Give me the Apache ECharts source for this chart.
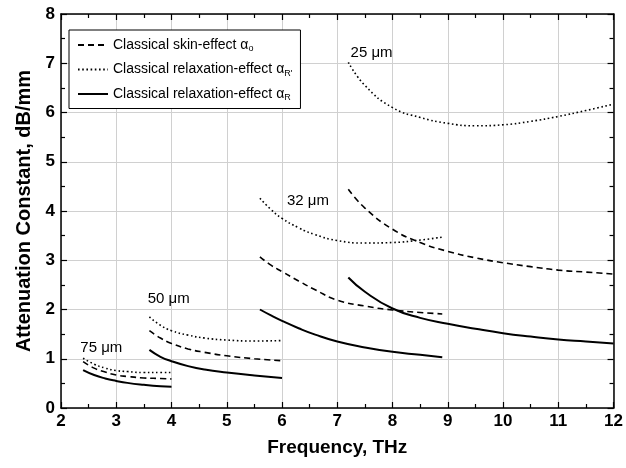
<!DOCTYPE html>
<html>
<head>
<meta charset="utf-8">
<script src="https://cdn.jsdelivr.net/npm/echarts@6/dist/echarts.min.js"></script>
<style>
  html, body { margin: 0; padding: 0; background: #fff; }
  #chart { width: 626px; height: 468px; }
</style>
</head>
<body>
<div id="chart"></div>
<script>
// frequency points (THz) for each wire size
const x75 = [2.4, 2.6, 2.8, 3.0, 3.2, 3.5, 3.8, 4.0];
const x50 = [3.6, 3.8, 4.0, 4.3, 4.6, 5.0, 5.5, 6.0];
const x32 = [5.6, 5.8, 6.0, 6.3, 6.6, 7.0, 7.5, 8.0, 8.5, 8.9];
const x25 = [7.2, 7.5, 8.0, 8.5, 9.0, 9.5, 10, 10.5, 11, 11.5, 12];

// skin-effect alpha_o (dashed)
const skin75 = [0.94, 0.81, 0.73, 0.67, 0.64, 0.61, 0.60, 0.59];
const skin50 = [1.57, 1.42, 1.31, 1.20, 1.13, 1.06, 1.00, 0.96];
const skin32 = [3.07, 2.90, 2.77, 2.58, 2.40, 2.19, 2.07, 1.99, 1.94, 1.91];
const skin25 = [4.44, 4.06, 3.63, 3.36, 3.18, 3.05, 2.95, 2.87, 2.80, 2.76, 2.72];

// relaxation-effect alpha_R' (dotted)
const relP75 = [1.01, 0.89, 0.81, 0.76, 0.74, 0.72, 0.72, 0.72];
const relP50 = [1.85, 1.68, 1.57, 1.48, 1.42, 1.38, 1.36, 1.37];
const relP32 = [4.26, 4.03, 3.85, 3.66, 3.52, 3.40, 3.35, 3.36, 3.41, 3.47];
const relP25 = [7.02, 6.55, 6.10, 5.90, 5.78, 5.73, 5.75, 5.82, 5.92, 6.04, 6.17];

// relaxation-effect alpha_R (solid)
const rel75 = [0.77, 0.67, 0.60, 0.55, 0.51, 0.47, 0.44, 0.43];
const rel50 = [1.18, 1.04, 0.95, 0.85, 0.78, 0.72, 0.66, 0.61];
const rel32 = [2.00, 1.88, 1.77, 1.62, 1.49, 1.35, 1.23, 1.14, 1.08, 1.03];
const rel25 = [2.65, 2.36, 2.02, 1.83, 1.71, 1.61, 1.52, 1.45, 1.39, 1.35, 1.31];

const sizeLabels = ['25 μm', '32 μm', '50 μm', '75 μm'];
const sizeAnchors = [[7.24, 7.21], [6.09, 4.20], [3.57, 2.21], [2.35, 1.22]];

const xTicks = [2, 3, 4, 5, 6, 7, 8, 9, 10, 11, 12];
const yTicks = [0, 1, 2, 3, 4, 5, 6, 7, 8];

const nameSkin = 'Classical skin-effect';
const nameRelP = 'Classical relaxation-effect ';
const nameRel = 'Classical relaxation-effect';

const pairs = (xs, ys) => xs.map((x, i) => [x, ys[i]]);

const styles = {};
styles[nameSkin] = { type: [6, 4], width: 1.6 };
styles[nameRelP] = { type: [1.6, 2.6], width: 1.6 };
styles[nameRel] = { type: 'solid', width: 2 };

function mk(name, xs, ys) {
  return {
    name: name,
    type: 'line',
    smooth: true,
    symbol: 'none',
    data: pairs(xs, ys),
    lineStyle: { color: '#000', width: styles[name].width, type: styles[name].type },
    itemStyle: { color: '#000' }
  };
}

const font = "'Liberation Sans', Arial, sans-serif";
const gridColor = '#d0d0d0';

const chart = echarts.init(document.getElementById('chart'));

const axisCommon = {
  type: 'value',
  interval: 1,
  axisLine: { show: true, onZero: false, lineStyle: { color: '#000', width: 1.5 } },
  axisTick: { show: true, inside: true, length: 6, lineStyle: { color: '#000', width: 1.2 } },
  minorTick: { show: true, splitNumber: 2, length: 4, lineStyle: { color: '#000', width: 1.2 } }
};

chart.setOption({
  animation: false,
  textStyle: { fontFamily: font },
  grid: { left: 61, right: 10, top: 14, bottom: 60 },
  legend: {
    orient: 'vertical',
    left: 69,
    top: 30,
    itemWidth: 30,
    itemHeight: 10,
    itemGap: 9,
    itemStyle: { opacity: 0 },
    padding: [8, 8, 6, 8],
    borderColor: '#000',
    borderWidth: 1,
    backgroundColor: '#fff',
    data: [nameSkin, nameRelP, nameRel],
    formatter: function (n) {
      if (n === nameSkin) return '{t|' + n + ' α}{s|o}';
      if (n === nameRelP) return '{t|' + n.trim() + ' α}{s|R\'}';
      return '{t|' + n + ' α}{s|R}';
    },
    textStyle: {
      rich: {
        t: { fontFamily: font, fontSize: 14, color: '#000' },
        s: { fontFamily: font, fontSize: 9, color: '#000', padding: [8, 0, 0, 0] }
      }
    }
  },
  xAxis: [
    Object.assign({}, axisCommon, {
      min: 2, max: 12,
      position: 'bottom',
      name: 'Frequency, THz',
      nameLocation: 'middle',
      nameGap: 30,
      nameTextStyle: { fontFamily: font, fontSize: 19, fontWeight: 'bold', color: '#000' },
      axisLabel: {
        fontFamily: font, fontSize: 17, fontWeight: 'bold', color: '#000', margin: 5,
        formatter: v => (xTicks.indexOf(v) >= 0 ? String(v) : '')
      },
      splitLine: { show: true, lineStyle: { color: gridColor, width: 1 } }
    }),
    Object.assign({}, axisCommon, {
      min: 2, max: 12,
      position: 'top',
      axisLabel: { show: false },
      splitLine: { show: false }
    })
  ],
  yAxis: [
    Object.assign({}, axisCommon, {
      min: 0, max: 8,
      position: 'left',
      name: 'Attenuation Constant, dB/mm',
      nameLocation: 'middle',
      nameGap: 27,
      nameTextStyle: { fontFamily: font, fontSize: 20, fontWeight: 'bold', color: '#000' },
      axisLabel: {
        fontFamily: font, fontSize: 17, fontWeight: 'bold', color: '#000', margin: 6,
        formatter: v => (yTicks.indexOf(v) >= 0 ? String(v) : '')
      },
      splitLine: { show: true, lineStyle: { color: gridColor, width: 1 } }
    }),
    Object.assign({}, axisCommon, {
      min: 0, max: 8,
      position: 'right',
      axisLabel: { show: false },
      splitLine: { show: false }
    })
  ],
  series: [
    mk(nameSkin, x75, skin75), mk(nameRelP, x75, relP75), mk(nameRel, x75, rel75),
    mk(nameSkin, x50, skin50), mk(nameRelP, x50, relP50), mk(nameRel, x50, rel50),
    mk(nameSkin, x32, skin32), mk(nameRelP, x32, relP32), mk(nameRel, x32, rel32),
    mk(nameSkin, x25, skin25), mk(nameRelP, x25, relP25), mk(nameRel, x25, rel25)
  ]
});

// wire-size annotations, placed through the axes
chart.setOption({
  graphic: sizeLabels.map((t, i) => {
    const p = chart.convertToPixel({ gridIndex: 0 }, sizeAnchors[i]);
    return {
      type: 'text',
      x: p[0],
      y: p[1],
      style: { text: t, fontFamily: font, fontSize: 15, fill: '#000', verticalAlign: 'middle', align: 'left' }
    };
  })
});
</script>
</body>
</html>
